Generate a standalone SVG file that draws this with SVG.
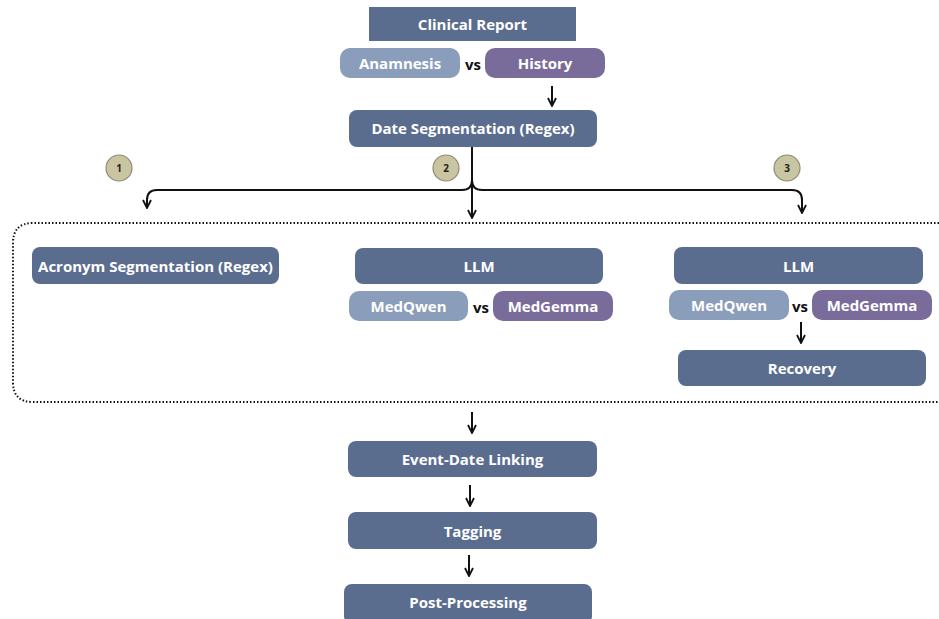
<svg xmlns="http://www.w3.org/2000/svg" width="939" height="619" viewBox="0 0 939 619">
<style>
.n{fill:#5b6d8f}
.q{fill:#8a9dbb}
.g{fill:#7a6c9a}
.t{font-family:"Open Sans","Liberation Sans",sans-serif;font-weight:700;font-size:15px;fill:#ffffff;text-anchor:middle;dominant-baseline:central}
.vs{font-family:"Open Sans","Liberation Sans",sans-serif;font-weight:700;font-size:15px;fill:#111111;text-anchor:middle;dominant-baseline:central}
.c{fill:#c9c5a0;stroke:#8f8c78;stroke-width:1.2}
.ct{font-family:"Open Sans","Liberation Sans",sans-serif;font-weight:700;font-size:10px;fill:#222222;text-anchor:middle;dominant-baseline:central}
.l{fill:none;stroke:#111111;stroke-width:2;marker-end:url(#ah)}
.l0{fill:none;stroke:#111111;stroke-width:2}
</style>
<defs>
<marker id="ah" viewBox="0 0 10 10" refX="9" refY="5" markerWidth="5" markerHeight="5" orient="auto" markerUnits="strokeWidth">
<path d="M1,1 L9,5 L1,9" fill="none" stroke="#111111" stroke-width="1.8" stroke-linejoin="miter"/>
</marker>
</defs>
<rect width="939" height="619" fill="#ffffff"/>

<g id="connectors">
<path class="l" d="M552,86 V106"/>
<path class="l0" d="M472,147 V180 Q472,190 462,190 H157 Q147,190 147,200"/>
<path class="l" d="M147,198 V208"/>
<path class="l" d="M472,180 V218"/>
<path class="l0" d="M472,180 Q472,190 482,190 H792 Q802,190 802,200"/>
<path class="l" d="M802,198 V213"/>
<path class="l" d="M801,322 V343"/>
<path class="l" d="M472,412 V433"/>
<path class="l" d="M470,485 V506"/>
<path class="l" d="M469,555 V576"/>
</g>

<g id="group-box">
<path d="M939,223 H33 Q13,223 13,243 V382 Q13,402 33,402 H939" fill="none" stroke="#111111" stroke-width="2" stroke-dasharray="1.5,2" stroke-linecap="butt"/>
</g>

<g id="clinical-report"><rect class="n" x="369" y="7" width="207" height="34"/><text class="t" x="472.5" y="24">Clinical Report</text></g>
<g id="anamnesis"><rect class="q" x="340" y="48" width="120" height="30" rx="10"/><text class="t" x="400" y="63">Anamnesis</text></g>
<text class="vs" x="473" y="64">vs</text>
<g id="history"><rect class="g" x="485" y="48" width="120" height="30" rx="10"/><text class="t" x="545" y="63">History</text></g>
<g id="date-seg"><rect class="n" x="349" y="110" width="248" height="37" rx="8"/><text class="t" x="473" y="128">Date Segmentation (Regex)</text></g>

<g id="badge-1"><circle class="c" cx="119" cy="168" r="13"/><text class="ct" x="119" y="168">1</text></g>
<g id="badge-2"><circle class="c" cx="446" cy="168" r="13"/><text class="ct" x="446" y="168">2</text></g>
<g id="badge-3"><circle class="c" cx="787" cy="168" r="13"/><text class="ct" x="787" y="168">3</text></g>

<g id="acronym-seg"><rect class="n" x="32" y="247" width="247" height="37" rx="8"/><text class="t" x="155.5" y="265.5">Acronym Segmentation (Regex)</text></g>

<g id="llm-2"><rect class="n" x="355" y="248" width="248" height="36" rx="8"/><text class="t" x="479" y="266">LLM</text></g>
<g id="medqwen-2"><rect class="q" x="349" y="291" width="119" height="30" rx="10"/><text class="t" x="408.5" y="306">MedQwen</text></g>
<text class="vs" x="481" y="307">vs</text>
<g id="medgemma-2"><rect class="g" x="493" y="291" width="120" height="30" rx="10"/><text class="t" x="553" y="306">MedGemma</text></g>

<g id="llm-3"><rect class="n" x="674" y="247" width="249" height="37" rx="8"/><text class="t" x="798.5" y="265.5">LLM</text></g>
<g id="medqwen-3"><rect class="q" x="669" y="290" width="120" height="30" rx="10"/><text class="t" x="729" y="305">MedQwen</text></g>
<text class="vs" x="800" y="306">vs</text>
<g id="medgemma-3"><rect class="g" x="812" y="290" width="120" height="30" rx="10"/><text class="t" x="872" y="305">MedGemma</text></g>
<g id="recovery"><rect class="n" x="678" y="350" width="248" height="36" rx="8"/><text class="t" x="802" y="368">Recovery</text></g>

<g id="event-date"><rect class="n" x="348" y="441" width="249" height="36" rx="8"/><text class="t" x="472.5" y="459">Event-Date Linking</text></g>
<g id="tagging"><rect class="n" x="348" y="512" width="249" height="37" rx="8"/><text class="t" x="472.5" y="530.5">Tagging</text></g>
<g id="post-processing"><rect class="n" x="344" y="584" width="248" height="40" rx="8"/><text class="t" x="468" y="602">Post-Processing</text></g>
</svg>
